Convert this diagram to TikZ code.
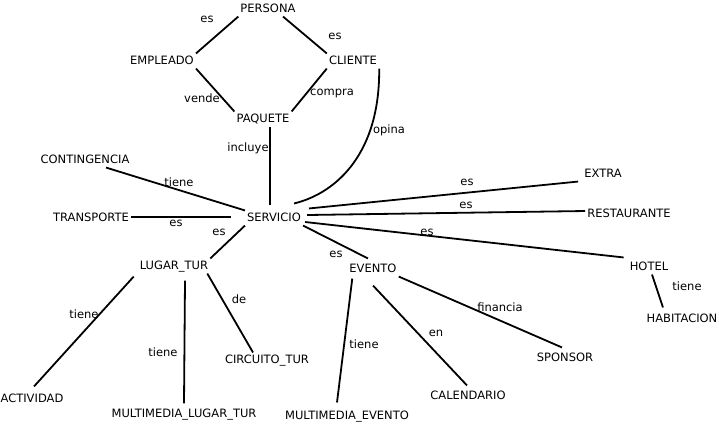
\documentclass[tikz,border=0pt]{standalone}
\usepackage{fontspec}
\setmainfont{DejaVu Sans}
\begin{document}
\begin{tikzpicture}[x=1pt,y=-1pt,
  ent/.style={inner sep=2pt, text height=8.5pt, text depth=2.2pt, font=\fontsize{11.5}{13}\selectfont},
  lbl/.style={inner sep=1pt, text height=8.5pt, text depth=2.2pt, font=\fontsize{11.5}{13}\selectfont},
  edge/.style={line width=1.8pt, line cap=butt}]
\useasboundingbox (0,0) rectangle (719,424);
% entities
\node[ent] (persona)   at (268,9)   {PERSONA};
\node[ent] (empleado)  at (162,61)  {EMPLEADO};
\node[ent] (cliente)   at (353,61)  {CLIENTE};
\node[ent] (paquete)   at (263,119) {PAQUETE};
\node[ent] (conting)   at (85,160)  {CONTINGENCIA};
\node[ent] (servicio)  at (274,218) {SERVICIO};
\node[ent] (transp)    at (91,218)  {TRANSPORTE};
\node[ent] (extra)     at (603,174) {EXTRA};
\node[ent] (restaur)   at (629,214) {RESTAURANTE};
\node[ent] (hotel)     at (649,267) {HOTEL};
\node[ent] (habit)     at (682,319) {HABITACION};
\node[ent] (lugar)     at (174,266) {LUGAR\_TUR};
\node[ent] (evento)    at (373,269) {EVENTO};
\node[ent] (activ)     at (32,399)  {ACTIVIDAD};
\node[ent] (mlugar)    at (184,414) {MULTIMEDIA\_LUGAR\_TUR};
\node[ent] (circuito)  at (267,360) {CIRCUITO\_TUR};
\node[ent] (mevento)   at (347,416) {MULTIMEDIA\_EVENTO};
\node[ent] (calend)    at (468,396) {CALENDARIO};
\node[ent] (sponsor)   at (565,358) {SPONSOR};
% connectors
\draw[edge] (persona.south west) -- (empleado.north east);
\draw[edge] ([xshift=15pt]persona.south) -- (cliente.north west);
\draw[edge] (empleado.south east) -- (paquete.north west);
\draw[edge] (cliente.south west) -- (paquete.north east);
\draw[edge] ([xshift=7pt]paquete.south) -- ([xshift=-4pt,yshift=5pt]servicio.north);
\draw[edge] ([xshift=21pt]conting.south) -- (servicio.north west);
\draw[edge] ([yshift=1pt]transp.east) -- ([xshift=-14pt,yshift=1pt]servicio.west);
\draw[edge] (servicio.south west) -- (lugar.north east);
\draw[edge] ([xshift=6pt,yshift=2pt]servicio.north east) -- ([xshift=-4pt]extra.south west);
\draw[edge] ([xshift=4pt,yshift=3pt]servicio.east) -- ([yshift=3pt]restaur.west);
\draw[edge] ([xshift=2pt,yshift=-4pt]servicio.east) -- ([xshift=-4pt,yshift=2pt]hotel.north west);
\draw[edge] (servicio.south east) -- ([xshift=-5pt,yshift=3pt]evento.north);
\draw[edge] (cliente.south east) .. controls (380,160) and (330,195) .. ([shift={(-9pt,7pt)}]servicio.north east);
\draw[edge] ([xshift=3pt]hotel.south) -- ([xshift=-19pt,yshift=4pt]habit.north);
\draw[edge] ([xshift=-4pt,yshift=-3pt]lugar.south west) -- ([xshift=2pt,yshift=5pt]activ.north);
\draw[edge] ([xshift=11pt,yshift=-7pt]lugar.south) -- ([yshift=3pt]mlugar.north);
\draw[edge] ([xshift=-3pt]lugar.south east) -- ([xshift=-14pt]circuito.north);
\draw[edge] ([xshift=5pt,yshift=-2pt]evento.south west) -- ([xshift=-10pt,yshift=6pt]mevento.north);
\draw[edge] ([yshift=-9pt]evento.south) -- ([xshift=-1pt,yshift=3pt]calend.north);
\draw[edge] (evento.south east) -- ([xshift=-3pt,yshift=3pt]sponsor.north);
% labels
\node[lbl] (l1)  at (207,19)  {es};
\node[lbl] (l2)  at (335,36)  {es};
\node[lbl] (l3)  at (202,99)  {vende};
\node[lbl] (l4)  at (332,92)  {compra};
\node[lbl] (l5)  at (389,130) {opina};
\node[lbl] (l6)  at (248,148) {incluye};
\node[lbl] (l7)  at (179,183) {tiene};
\node[lbl] (l8)  at (176,223) {es};
\node[lbl] (l9)  at (219,232) {es};
\node[lbl] (l10) at (467,182) {es};
\node[lbl] (l11) at (466,205) {es};
\node[lbl] (l12) at (427,232) {es};
\node[lbl] (l13) at (336,254) {es};
\node[lbl] (l14) at (687,287) {tiene};
\node[lbl] (l15) at (84,315)  {tiene};
\node[lbl] (l16) at (163,353) {tiene};
\node[lbl] (l17) at (239,300) {de};
\node[lbl] (l18) at (364,345) {tiene};
\node[lbl] (l19) at (436,333) {en};
\node[lbl] (l20) at (500,308) {financia};
\end{tikzpicture}
\end{document}
